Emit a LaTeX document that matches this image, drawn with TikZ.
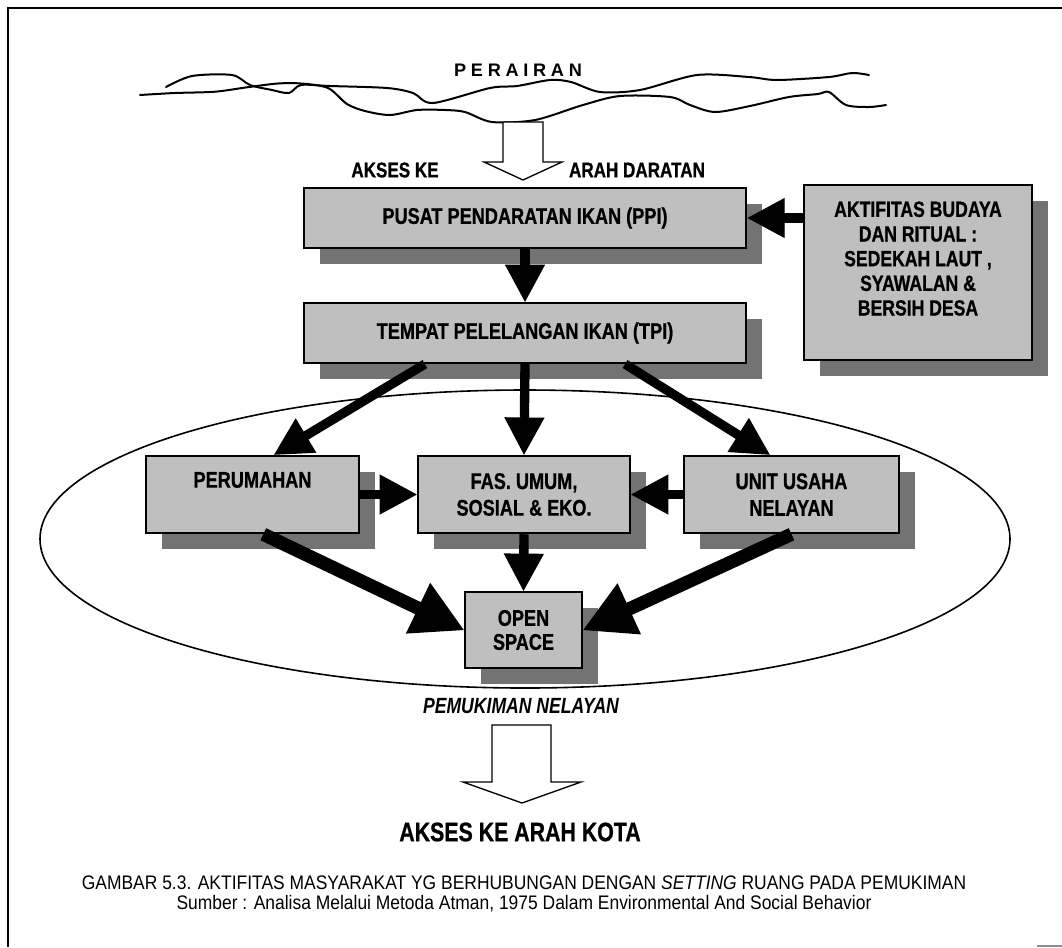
\documentclass[tikz,border=0pt]{standalone}
\usepackage{fontspec}
\setmainfont{Liberation Sans}
\newfontfamily\narrowfont[FakeStretch=0.8, BoldFeatures={FakeBold=0.8}]{Liberation Sans}
\newfontfamily\captionfont[FakeStretch=0.89]{Liberation Sans}
\usetikzlibrary{arrows.meta,shadows,calc}

\tikzset{
  box/.style={draw=black, line width=1.6pt, fill=black!25, align=center,
    font=\narrowfont\fontsize{17}{20}\selectfont\bfseries,
    drop shadow={shadow xshift=12pt, shadow yshift=-12pt, fill=black!55, opacity=1}},
  arr/.style={line width=7pt, -{Triangle[length=28pt,width=30pt,line width=1pt]}},
  bigarr/.style={line width=10pt, -{Triangle[length=38pt,width=42pt,line width=1pt]}},
  tag/.style={font=\narrowfont\fontsize{16}{18}\selectfont\bfseries},
  hollow/.style={draw=black, line width=1pt, fill=white, line join=miter},
  wave/.style={line width=1.5pt, line cap=round}
}

\begin{document}
\begin{tikzpicture}[x=0.75pt, y=-0.75pt]
      \useasboundingbox (0,0) rectangle (1062,947);

      % Frame, only top and left edges are printed
      \draw[line width=2pt] (1062,8) -- (8,8) -- (8,947);
      \draw[black!45, line width=1pt] (1037,946) -- (1062,946);

      % Water surface drawn as two rough lines
      \draw[wave] plot [smooth, tension=0.5] coordinates {(166,87) (192,76) (232,75) (250,85) (272,90) (289,93) (301,85) (330,86) (387,88) (413,93) (433,103) (490,88) (517,86) (550,80) (571,82) (600,92) (640,90) (697,75) (749,77) (777,80) (829,77) (852,73) (869,75)};
      \draw[wave] plot [smooth, tension=0.5] coordinates {(140,95) (175,93) (215,91.7) (249,87) (278,83.5) (301,83.5) (328,88) (347,104) (365,111) (390,115) (417,110) (445,110) (465,112) (492,122) (535,120) (583,105) (620,96) (670,97) (690,105) (715,112) (750,106) (789,97) (818,94) (829,92) (846,105) (869,107) (886,105)};
      \node[font=\fontsize{13.6}{16}\selectfont\bfseries\addfontfeature{LetterSpace=26}] (perairan) at (518,70) {PERAIRAN};

      % Open arrow from the water to the land
      \draw[hollow] (503,122) -- (503,162) -- (484,162) -- (523,180) -- (562,162) -- (543,162) -- (543,122) -- cycle;
      \node[tag] (akses) at (395,170) {AKSES KE};
      \node[tag] (daratan) at (637,170) {ARAH DARATAN};

      % Settlement area
      \draw[line width=1.2pt] (525,539) ellipse [x radius=363.75pt, y radius=111.75pt];
      \node[tag, font=\narrowfont\fontsize{16.5}{18}\selectfont\bfseries\itshape] (pemukiman) at (521,706) {PEMUKIMAN NELAYAN};

      % Activity boxes
      \node[box, minimum width=332pt, minimum height=45pt] (ppi) at (525,218) {PUSAT PENDARATAN IKAN (PPI)};
      \node[box, minimum width=332pt, minimum height=45pt] (tpi) at (525,333) {TEMPAT PELELANGAN IKAN (TPI)};
      \node[box, minimum width=171pt, minimum height=131pt, text depth=21pt,
        font=\narrowfont\fontsize{16.5}{18.5}\selectfont\bfseries] (budaya) at (918,272.5) {AKTIFITAS BUDAYA\\DAN RITUAL :\\SEDEKAH LAUT ,\\SYAWALAN \&\\BERSIH DESA};
      \node[box, minimum width=160pt, minimum height=58pt, text depth=22pt] (rumah) at (252.5,494.5) {PERUMAHAN};
      \node[box, minimum width=159pt, minimum height=58pt] (fasum) at (524,494.5) {FAS. UMUM,\\SOSIAL \& EKO.};
      \node[box, minimum width=161pt, minimum height=58pt] (usaha) at (791.5,494.5) {UNIT USAHA\\NELAYAN};
      \node[box, minimum width=88pt, minimum height=57pt, font=\narrowfont\fontsize{17}{18}\selectfont\bfseries] (open) at (523.5,630) {OPEN\\SPACE};

      % Flows between the activities
      \draw[arr] (ppi.east -| budaya.west) -- (ppi.east);
      \draw[arr] (ppi.south) -- (tpi.north);
      \draw[arr] ($(tpi.south)!0.45!(tpi.south west)$) -- ($(rumah.north)!0.2!(rumah.north east)$);
      \draw[arr] (tpi.south) -- (fasum.north);
      \draw[arr] ($(tpi.south)!0.45!(tpi.south east)$) -- ($(usaha.north)!0.2!(usaha.north west)$);
      \draw[arr] (rumah.east) -- (fasum.west);
      \draw[arr] (usaha.west) -- (fasum.east);
      \draw[arr] (fasum.south) -- (open.north);
      \draw[bigarr] ($(rumah.south)!0.1!(rumah.south east)$) -- (open.west);
      \draw[bigarr] (usaha.south) -- (open.east);

      % Open arrow towards the town
      \draw[hollow] (492,725) -- (492,782) -- (463,782) -- (522,803) -- (581,782) -- (551,782) -- (551,725) -- cycle;
      \node[tag, font=\narrowfont\fontsize{20}{22}\selectfont\bfseries] (kota) at (520,832) {AKSES KE ARAH KOTA};

      % Caption
      \node[align=center, font=\captionfont\fontsize{14.7}{15}\selectfont] (caption) at (524,894) {GAMBAR 5.3. AKTIFITAS MASYARAKAT YG BERHUBUNGAN DENGAN \textit{SETTING} RUANG PADA PEMUKIMAN\\Sumber : Analisa Melalui Metoda Atman, 1975 Dalam Environmental And Social Behavior};
\end{tikzpicture}
\end{document}
